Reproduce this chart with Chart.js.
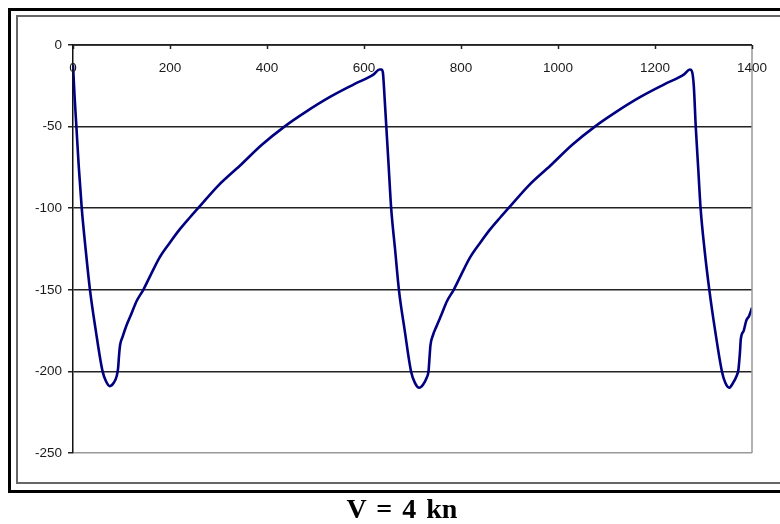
<!DOCTYPE html>
<html>
<head>
<meta charset="utf-8">
<script src="https://cdn.jsdelivr.net/npm/chart.js@4"></script>
<style>
    html, body { margin: 0; padding: 0; background: #fff; width: 780px; height: 524px; overflow: hidden; }
    .outer { position: absolute; left: 8px; top: 8px; width: 790px; height: 479px; border: 3px solid #000; }
    .inner { position: absolute; left: 16px; top: 15px; width: 790px; height: 465px; border: 2px solid #666; }
    #wrap { position: absolute; left: 0; top: 0; width: 780px; height: 524px; }
    .caption { position: absolute; left: 302px; width: 200px; top: 495px; text-align: center;
        font: bold 28px "Liberation Serif", serif; line-height: 28px; word-spacing: 3px; color: #000; }
</style>
</head>
<body>
<div class="outer"></div>
<div class="inner"></div>
<div id="wrap"><canvas id="chart" width="780" height="524"></canvas></div>
<div class="caption">V = 4 kn</div>

<script>
// Values
const xValues = [
    0, 3, 7, 12, 18, 26, 35, 47, 61, 68, 76, 84, 90, 93, 95, 97, 102, 110, 120, 131,
    145, 160, 179, 200, 220, 240, 258, 300, 344, 390, 436, 480, 529, 580, 620, 632,
    636, 639, 642, 646, 651, 656, 664, 672, 684, 697, 705, 714, 722, 729, 733, 735,
    737, 742, 750, 760, 771, 785, 800, 819, 840, 860, 880, 898, 940, 984, 1030, 1076,
    1120, 1169, 1220, 1260, 1272, 1276, 1280, 1284, 1289, 1294, 1302, 1312, 1324, 1338,
    1345, 1353, 1361, 1368, 1372, 1375, 1377, 1383, 1388, 1394, 1400
];
const yValues = [
    -12, -30, -50, -75, -100, -125, -150, -175, -200, -206, -209, -207, -203, -198, -190, -184, -179, -172, -165, -157,
    -150, -141, -130, -121, -113, -106, -100, -86, -74, -61, -50, -41, -32, -24, -18, -15,
    -15, -17, -30, -50, -75, -100, -125, -150, -175, -200, -207, -210, -208, -204, -200, -192,
    -184, -178, -172, -165, -157, -150, -141, -130, -121, -113, -106, -100, -86, -74, -61, -50,
    -41, -32, -24, -18, -15, -16, -25, -50, -75, -100, -125, -150, -175, -200,
    -207, -210, -207, -203, -199, -189, -180, -175, -169, -166, -161
];
const xTicks = [0, 200, 400, 600, 800, 1000, 1200, 1400];
const yMin = -250;
const yMax = 0;
const yStep = 50;

const points = xValues.map((x, i) => ({ x: x, y: yValues[i] }));

// Top x axis with labels hanging below the line, plus the grey frame on the right
const topAxisPlugin = {
    id: 'topAxis',
    afterDraw(chart) {
        const ctx = chart.ctx;
        const area = chart.chartArea;
        const xs = chart.scales.x;
        ctx.save();
        ctx.strokeStyle = '#999';
        ctx.lineWidth = 1.5;
        ctx.beginPath();
        ctx.moveTo(area.right, area.top);
        ctx.lineTo(area.right, area.bottom);
        ctx.stroke();

        ctx.strokeStyle = '#222';
        ctx.lineWidth = 1.5;
        ctx.beginPath();
        ctx.moveTo(area.left, area.top);
        ctx.lineTo(area.right, area.top);
        xTicks.forEach(v => {
            const px = Math.round(xs.getPixelForValue(v)) + 0.5;
            ctx.moveTo(px, area.top);
            ctx.lineTo(px, area.top + 4);
        });
        ctx.stroke();

        ctx.fillStyle = '#1a1a1a';
        ctx.font = '13.5px "Liberation Sans", Arial, sans-serif';
        ctx.textAlign = 'center';
        ctx.textBaseline = 'middle';
        xTicks.forEach(v => {
            ctx.fillText(String(v), xs.getPixelForValue(v), area.top + 23);
        });
        ctx.restore();
    }
};

new Chart(document.getElementById('chart'), {
    type: 'line',
    data: {
        datasets: [{
            data: points,
            borderColor: '#000080',
            borderWidth: 2.6,
            pointRadius: 0,
            fill: false,
            cubicInterpolationMode: 'monotone'
        }]
    },
    options: {
        responsive: false,
        animation: false,
        layout: { padding: { left: 23, right: 28, top: 45, bottom: 71 } },
        plugins: {
            legend: { display: false },
            tooltip: { enabled: false },
            title: { display: false }
        },
        scales: {
            x: {
                type: 'linear',
                min: 0,
                max: 1400,
                display: false
            },
            y: {
                min: yMin,
                max: yMax,
                afterFit: scale => { scale.width = 50; },
                ticks: {
                    stepSize: yStep,
                    color: '#1a1a1a',
                    padding: 6,
                    font: { family: '"Liberation Sans", Arial, sans-serif', size: 13.5 }
                },
                grid: {
                    color: ctx => ctx.tick && ctx.tick.value === yMin ? '#999' : '#222',
                    lineWidth: 1.5,
                    tickLength: 5,
                    tickColor: '#222'
                },
                border: { color: '#111', width: 1.5 }
            }
        }
    },
    plugins: [topAxisPlugin]
});
</script>
</body>
</html>
